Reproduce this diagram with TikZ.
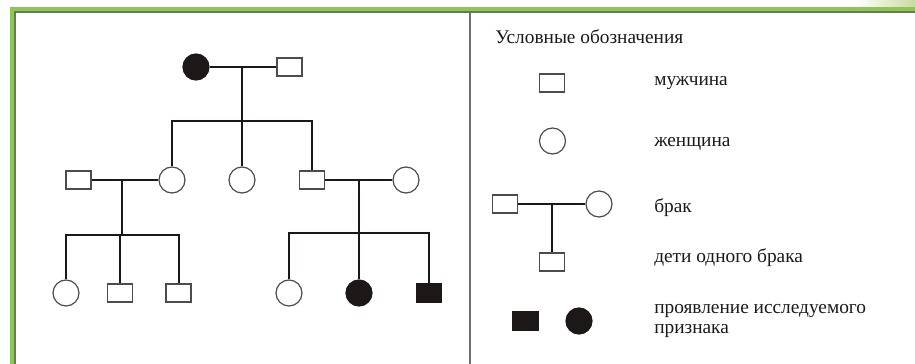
\documentclass[tikz,border=0pt]{standalone}
\usepackage{fontspec}
\setmainfont{Liberation Serif}
\definecolor{framegreen}{RGB}{139,201,74}
\definecolor{framegrey}{RGB}{112,112,112}
\definecolor{fadegreen}{RGB}{200,220,160}
\definecolor{ink}{RGB}{28,24,24}
\begin{document}
\begin{tikzpicture}[x=0.75pt,y=-0.75pt,
  male/.style={draw=black!70, line width=0.9pt, fill=white, rectangle,
    minimum width=18.75pt, minimum height=13.5pt, inner sep=0pt},
  female/.style={draw=black!70, line width=0.9pt, fill=white, circle,
    minimum size=19.5pt, inner sep=0pt},
  affmale/.style={male, fill=ink, draw=ink},
  afffemale/.style={female, fill=ink, draw=ink},
  link/.style={line width=1.5pt, draw=ink},
  legendtext/.style={anchor=base west, inner sep=0pt,
    font=\fontsize{14.5}{15}\selectfont, text=ink}]
\useasboundingbox (0,0) rectangle (915,364);

% frame: green outer band with a grey inner edge
\shade[left color=white, right color=fadegreen] (855,0) rectangle (915,7);
\fill[framegreen] (10,7) rectangle (915,11);
\fill[framegreen] (10,7) rectangle (14,364);
\fill[framegrey] (14,11) rectangle (915,13);
\fill[framegrey] (14,11) rectangle (16,364);
% divider between pedigree and legend
\fill[framegrey] (469,13) rectangle (471,364);

% ---------- pedigree ----------
% generation I
\node[afffemale] (g1f) at (196,67) {};
\node[male]      (g1m) at (289.5,67) {};
% generation II
\node[male]   (g2a) at (78.5,180) {};
\node[female] (g2b) at (172,180) {};
\node[female] (g2c) at (242,180) {};
\node[male]   (g2d) at (312,180) {};
\node[female] (g2e) at (406,180) {};
% generation III
\node[female]    (g3a) at (66,293) {};
\node[male]      (g3b) at (120,293) {};
\node[male]      (g3c) at (178.5,293) {};
\node[female]    (g3d) at (289,293) {};
\node[afffemale] (g3e) at (359,293) {};
\node[affmale]   (g3f) at (429,293) {};

% junctions on marriage lines and sibship lines
\coordinate (m1) at (242,67);
\coordinate (s1) at (242,121);
\coordinate (m2) at (122,180);
\coordinate (s2) at (122,235);
\coordinate (m3) at (359,180);
\coordinate (s3) at (359,233);

\draw[link] (g1f) -- (g1m);
\draw[link] (m1) -- (s1);
\draw[link] (g2b) |- (s1) -| (g2d);
\draw[link] (s1) -- (g2c);

\draw[link] (g2a) -- (g2b);
\draw[link] (m2) -- (s2);
\draw[link] (g3a) |- (s2) -| (g3c);
\draw[link] (s2 -| g3b) -- (g3b);

\draw[link] (g2d) -- (g2e);
\draw[link] (m3) -- (s3);
\draw[link] (g3d) |- (s3) -| (g3f);
\draw[link] (s3) -- (g3e);

% ---------- legend ----------
\node[legendtext] (title) at (495,43) {Условные обозначения};

\node[male]   (lm) at (552,83) {};
\node[legendtext] (tm) at (654,85) {мужчина};

\node[female] (lf) at (552.5,141) {};
\node[legendtext] (tf) at (654,146) {женщина};

\node[male]   (lbm) at (505,204) {};
\node[female] (lbf) at (599,204) {};
\node[male]   (lbc) at (552,262) {};
\coordinate (lj) at (552,204);
\draw[link] (lbm) -- (lbf);
\draw[link] (lj) -- (lbc);
\node[legendtext] (tb) at (654,212) {брак};
\node[legendtext] (tc) at (654,262) {дети одного брака};

\node[affmale]   (la1) at (525.5,321) {};
\node[afffemale] (la2) at (579,321) {};
\node[legendtext] (ta) at (654,313) {проявление исследуемого};
\node[legendtext] (tb2) at (654,333) {признака};
\end{tikzpicture}
\end{document}
